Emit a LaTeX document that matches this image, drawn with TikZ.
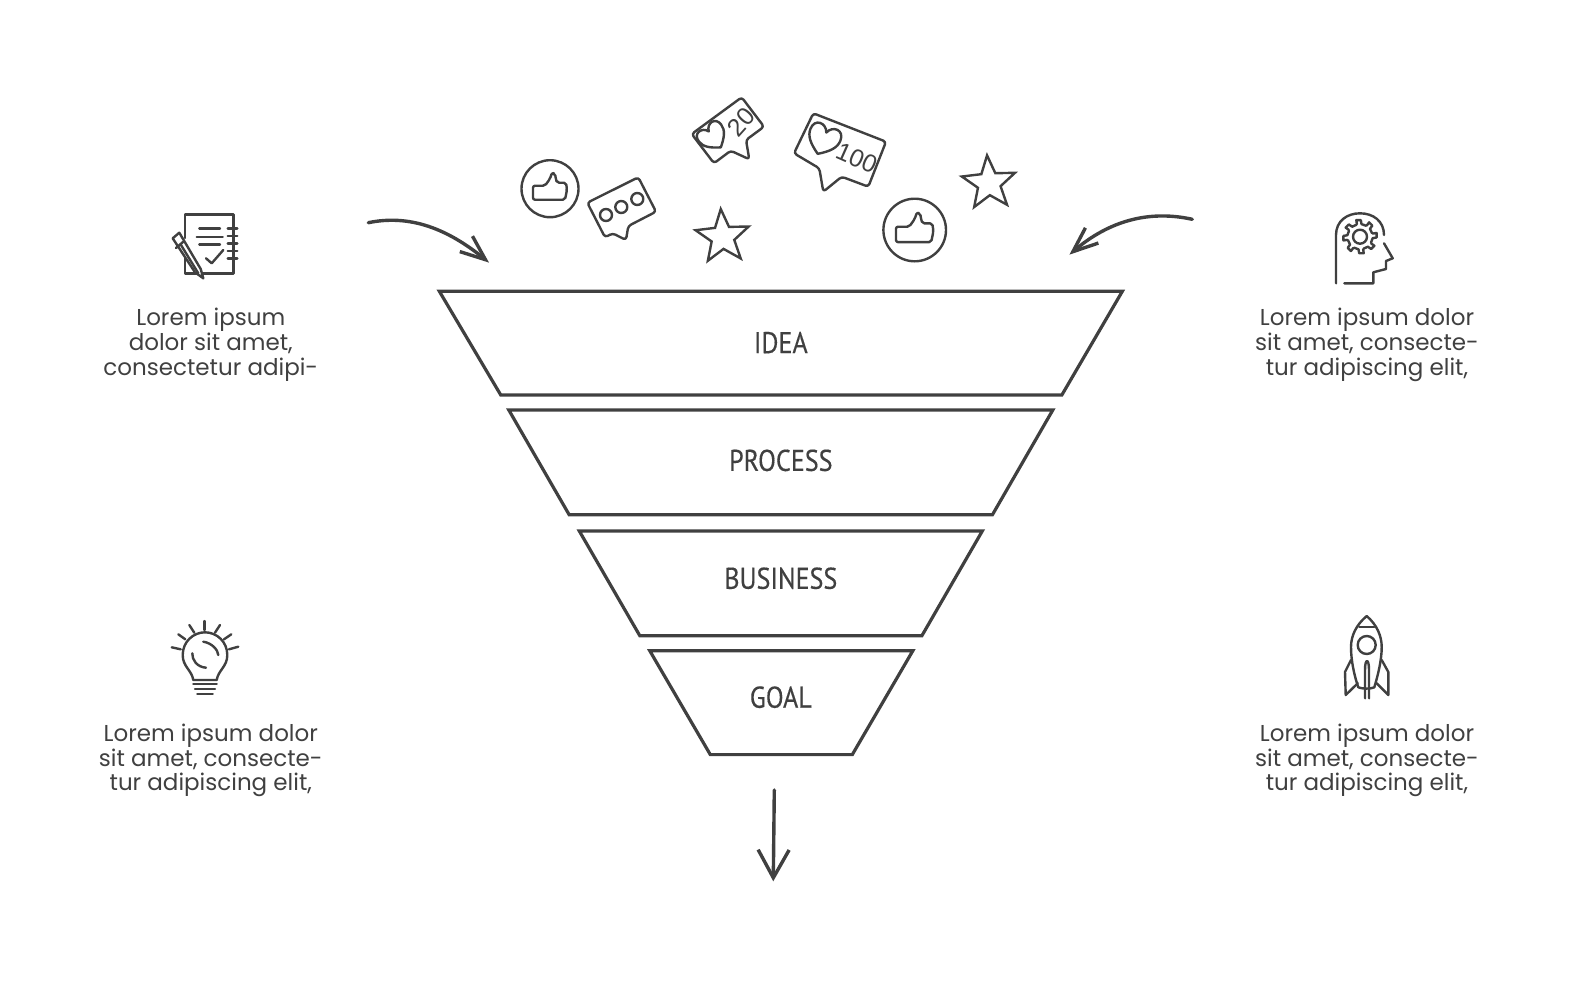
\documentclass[tikz,border=0pt]{standalone}
\usepackage{fontspec}
\setmainfont{Poppins}
\newfontfamily\labelfont[FakeBold=0.4]{PT Sans}
\newfontfamily\countfont{Liberation Sans}
\usetikzlibrary{arrows.meta,shapes.geometric}
\definecolor{ink}{HTML}{404040}
\tikzset{
    layer/.style={draw=ink, line width=1.6pt, line join=miter},
    layerlabel/.style={text=ink, font=\labelfont\fontsize{15}{18}\selectfont, xscale=0.87},
    blurb/.style={text=ink, align=center, font=\fontsize{11.5}{12.4}\selectfont},
    flow/.style={draw=ink, line width=1.7pt, line cap=round, shorten >=-1.5pt},
    bentflow/.style={flow, -{Straight Barb[length=12.5pt,width=10pt]}},
    downflow/.style={flow, -{Straight Barb[length=14pt,width=15.5pt]}},
    icon/.style={draw=ink, line width=1.2pt, line join=round, line cap=round},
    social/.style={draw=ink, line width=1.2pt, line join=round, rounded corners=1.5pt},
    starmark/.style={star, star points=5, star point ratio=2.35, draw=ink, line width=1.2pt, inner sep=0pt, minimum size=28pt},
    count/.style={text=ink, font=\countfont\fontsize{12.5}{12.5}\selectfont, inner sep=0pt},
    thumb/.pic={
        \draw [social, rounded corners=1pt] (-17,-3) -- (-5,-3) -- (0,-10) -- (2,-16) -- (5,-15) -- (6,-9) -- (7,-6) -- (16,-6) -- (17,1) -- (15,11) -- (-17,11) -- cycle;
    },
    heart/.pic={
        \draw [social, rounded corners=0pt] (0,13) .. controls (-9,7) and (-14,2) .. (-14,-5) .. controls (-14,-15) and (-3,-15) .. (0,-7) .. controls (3,-15) and (14,-15) .. (14,-5) .. controls (14,2) and (9,7) .. (0,13) -- cycle;
    }
}
\begin{document}
\begin{tikzpicture}[x=0.5pt, y=-0.5pt]
    \useasboundingbox (0,0) rectangle (1579,980);

    % funnel
    \draw [layer] (439.3,291.2) -- (1122.4,291.2) -- (1061.9,394.9) -- (500.7,394.9) -- cycle;
    \draw [layer] (508.8,410) -- (1052.8,410) -- (992.4,514.8) -- (569.2,514.8) -- cycle;
    \draw [layer] (579.3,531) -- (982.3,531) -- (921.9,635.7) -- (639.8,635.7) -- cycle;
    \draw [layer] (649.8,650.8) -- (912.8,650.8) -- (852.3,754.6) -- (710.3,754.6) -- cycle;
    \node [layerlabel] (idea) at (780.8,342.6) {IDEA};
    \node [layerlabel] (process) at (780.8,460.4) {PROCESS};
    \node [layerlabel] (business) at (780.8,578.3) {BUSINESS};
    \node [layerlabel] (goal) at (780.8,697.2) {GOAL};

    % arrows
    \coordinate (leftStart) at (368.3,222.7);
    \coordinate (leftEnd) at (486.7,260.7);
    \coordinate (rightStart) at (1192.3,219.3);
    \coordinate (rightEnd) at (1071.7,252.7);
    \coordinate (downStart) at (774.3,790);
    \coordinate (downEnd) at (773.3,878.3);
    \draw [bentflow] (leftStart) .. controls (410,214) and (448,229) .. (leftEnd);
    \draw [bentflow] (rightStart) .. controls (1150,210) and (1110,220) .. (rightEnd);
    \draw [downflow] (downStart) -- (downEnd);

    % texts
    \node [blurb] (noteText) at (210.8,345) {Lorem ipsum\\dolor sit amet,\\consectetur adipi-};
    \node [blurb] (headText) at (1367,345) {Lorem ipsum dolor\\sit amet, consecte-\\tur adipiscing elit,};
    \node [blurb] (bulbText) at (210.8,760.5) {Lorem ipsum dolor\\sit amet, consecte-\\tur adipiscing elit,};
    \node [blurb] (rocketText) at (1367,760.5) {Lorem ipsum dolor\\sit amet, consecte-\\tur adipiscing elit,};

    % social icons
    \draw [social] (550,188.7) circle (28.5);
    \pic at (550,188.7) {thumb};
    \draw [social] (914.7,230) circle (31.3);
    \pic [scale=1.1] at (914.7,230) {thumb};

    \draw [social] (587.3,202.7) -- (638.3,177.3) -- (656,211.7) -- (628.3,226) -- (626,240) -- (612.7,233.3) -- (605,237.3) -- cycle;
    \draw [social] (606,215) circle (6);
    \draw [social] (621.3,207) circle (6);
    \draw [social] (637.3,199) circle (6);

    \draw [social] (691.7,134) -- (741.7,97.3) -- (764,126.7) -- (746,140) -- (749.3,159.3) -- (730.7,150.7) -- (714,163.3) -- cycle;
    \pic [rotate=37] at (713,137) {heart};
    \node [count, rotate=48] (likes) at (741,122) {20};

    \draw [social] (794,153.3) -- (813.3,113.3) -- (886,141.7) -- (868.3,186.7) -- (841.7,176.7) -- (823.3,191.7) -- (819.3,168.3) -- cycle;
    \pic [rotate=-22, scale=1.15] at (823.3,140) {heart};
    \node [count, rotate=-24] (hearts) at (856.7,158.3) {100};

    \node [starmark, rotate=4] (starLeft) at (722.7,237) {};
    \node [starmark, rotate=4] (starRight) at (989,183.3) {};

    % notebook
    \draw [icon] (185,238) -- (185,214.3) -- (233.3,214.3) -- (233.3,273.3) -- (185,273.3) -- (185,258);
    \foreach \y in {228.3,235.7,243.3,250.7,258.3}
        \draw [icon] (227.7,\y) -- (237.3,\y);
    \draw [icon] (199.3,228.3) -- (220,228.3);
    \draw [icon] (196.7,236.7) -- (222.7,236.7);
    \draw [icon] (199.3,244.3) -- (220,244.3);
    \draw [icon] (206,258.3) -- (211.7,263.3) -- (223.3,250);
    \draw [icon, fill=white] (172.7,238.3) -- (179.3,232.7) -- (200.7,269) -- (203.3,278.3) -- (195,272.3) -- cycle;
    \draw [icon] (176,248) -- (183,242);
    \draw [icon] (181,245) -- (198.3,273.3);

    % head
    \draw [icon] (1336,283.3) -- (1336,235) .. controls (1336,221) and (1347,213.3) .. (1360,213.3) .. controls (1373,213.3) and (1384,221) .. (1384,235);
    \draw [icon] (1384,243.3) -- (1392.7,258.3) -- (1386,261) -- (1386,269) -- (1373.3,272.3) -- (1373.3,283.3) -- (1344.3,283.3);
    \foreach \a in {0,45,...,315}
        \draw [icon] (1360,236.7) ++(\a-14:13) -- ++(\a-8:4) -- ++(\a+90:4.5) -- ++(\a+170:4) arc[start angle=\a+10, end angle=\a+31, radius=13];
    \draw [icon] (1360,236.7) circle (7);

    % bulb
    \draw [icon] (193.3,680) .. controls (191.7,670) and (182.7,666.7) .. (182.7,655) .. controls (182.7,641.7) and (193.3,632.3) .. (205,632.3) .. controls (216.7,632.3) and (227.3,641.7) .. (227.3,655) .. controls (227.3,666.7) and (218.3,670) .. (216.7,680) -- cycle;
    \draw [icon] (193.3,684) -- (216.7,684);
    \draw [icon] (195,689) -- (215,689);
    \draw [icon] (197.3,694) -- (212.7,694);
    \draw [icon] (171.7,647.3) -- (180.7,649.3);
    \draw [icon] (178.3,634.3) -- (185.3,639.3);
    \draw [icon] (189.3,625) -- (194.3,632.7);
    \draw [icon] (204.3,621) -- (204.3,630);
    \draw [icon] (220,625) -- (215,632.7);
    \draw [icon] (231.3,634.3) -- (224,639.3);
    \draw [icon] (238.3,646.7) -- (229,649.3);
    \draw [icon] (203.3,641.7) .. controls (212,643) and (218,650) .. (218.3,655);
    \draw [icon] (192.3,653.3) .. controls (192,660) and (197,667) .. (206,667.7);

    % rocket
    \draw [icon] (1366.7,616) .. controls (1356,625) and (1351,636) .. (1351,647) .. controls (1351,660) and (1354,675) .. (1358.3,687.3) .. controls (1362,689) and (1371,689) .. (1374.3,687.3) .. controls (1378,675) and (1381.7,660) .. (1381.7,647) .. controls (1381.7,636) and (1377,625) .. (1366.7,616) -- cycle;
    \draw [icon] (1359.3,626.7) -- (1374.3,626.7);
    \draw [icon] (1366.7,645) circle (9);
    \draw [icon] (1351,660) -- (1345,672) -- (1345.7,695) -- (1357.7,683.3);
    \draw [icon] (1381.7,660) -- (1388.3,672) -- (1388.3,695) -- (1376.7,683.3);
    \draw [icon] (1365,698.3) -- (1365,670) .. controls (1365,658) and (1369,658) .. (1369,670) -- (1369,698.3);
\end{tikzpicture}
\end{document}
